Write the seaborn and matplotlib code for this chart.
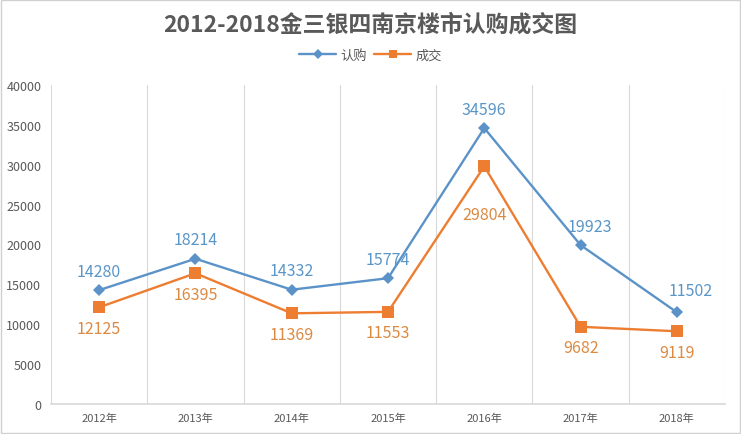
import matplotlib
matplotlib.use("Agg")
import matplotlib.pyplot as plt
import seaborn as sns
import pandas as pd
import numpy as np
from matplotlib.lines import Line2D
from matplotlib.patches import Rectangle

years = ["2012年", "2013年", "2014年", "2015年", "2016年", "2017年", "2018年"]
subscribe = [14280, 18214, 14332, 15774, 34596, 19923, 11502]
deal = [12125, 16395, 11369, 11553, 29804, 9682, 9119]
yticks = [0, 5000, 10000, 15000, 20000, 25000, 30000, 35000, 40000]

sns.set_theme(style="white")
plt.rcParams['font.family'] = ['Noto Sans CJK SC', 'DejaVu Sans']

blue = "#5B93C8"
orange = "#ED7D31"
blue_txt = "#5A96C8"
orange_txt = "#DC8A42"
gray = "#595959"

df = pd.DataFrame({
    "x": list(range(len(years))) * 2,
    "value": subscribe + deal,
    "series": ["认购"] * len(years) + ["成交"] * len(years),
})

fig = plt.figure(figsize=(7.41, 4.35), dpi=100)
ax = fig.add_axes([51/741, 1 - 405/435, (725-51)/741, (405-86)/435])

sns.lineplot(data=df, x="x", y="value", hue="series", style="series",
             palette={"认购": blue, "成交": orange},
             markers={"认购": "D", "成交": "s"}, dashes=False,
             linewidth=1.7, ax=ax, legend=False)
for line in ax.lines:
    if line.get_marker() == "D":
        line.set_markersize(6)
    else:
        line.set_markersize(8)
    line.set_markeredgewidth(0)

ax.set_xlim(-0.5, len(years) - 0.5)
ax.set_ylim(0, 40000)
ax.set_yticks(yticks)
ax.set_yticklabels([str(v) for v in yticks], fontsize=9, color=gray)
ax.set_xticks(range(len(years)))
ax.set_xticklabels(years, fontsize=8, color=gray)
ax.set_xlabel("")
ax.set_ylabel("")
ax.set_xticks(np.arange(-0.5, len(years) + 0.5, 1), minor=True)
ax.grid(False)
ax.grid(True, which="minor", axis="x", color="#D9D9D9", linewidth=0.8)
ax.tick_params(axis="both", which="both", length=0)
ax.tick_params(axis="y", pad=7)
ax.tick_params(axis="x", pad=6)
for s in ["top", "right", "left"]:
    ax.spines[s].set_visible(False)
ax.spines["bottom"].set_color("#D9D9D9")

# label offsets (points): default above for 认购, below for 成交
blue_off = [(0, 13.5)] * len(years)
orange_off = [(0, -15)] * len(years)
blue_off[5] = (7, 13.5)
blue_off[6] = (10, 16)
orange_off[4] = (0, -35)
for i, (a, b) in enumerate(zip(subscribe, deal)):
    ax.annotate(str(a), (i, a), xytext=blue_off[i], textcoords="offset points",
                ha="center", va="center", fontsize=11.5, color=blue_txt)
    ax.annotate(str(b), (i, b), xytext=orange_off[i], textcoords="offset points",
                ha="center", va="center", fontsize=11.5, color=orange_txt)

fig.text(0.5, 1 - 25/435, "2012-2018金三银四南京楼市认购成交图", ha="center", va="center",
         fontsize=16.5, fontweight="bold", color=gray)

handles = [Line2D([], [], color=blue, marker="D", markersize=5, markeredgewidth=0, linewidth=1.7),
           Line2D([], [], color=orange, marker="s", markersize=6, markeredgewidth=0, linewidth=1.7)]
fig.legend(handles, ["认购", "成交"], loc="center", bbox_to_anchor=(0.5, 1 - 56/435),
           ncol=2, frameon=False, fontsize=9.5, handlelength=2.8, columnspacing=0.6,
           handletextpad=0.3, labelcolor=gray)

fig.patches.append(Rectangle((0.001, 0.002), 0.997, 0.996, transform=fig.transFigure,
                             fill=False, edgecolor="#D0D0D0", linewidth=1))

fig.savefig("out.png", dpi=100)
